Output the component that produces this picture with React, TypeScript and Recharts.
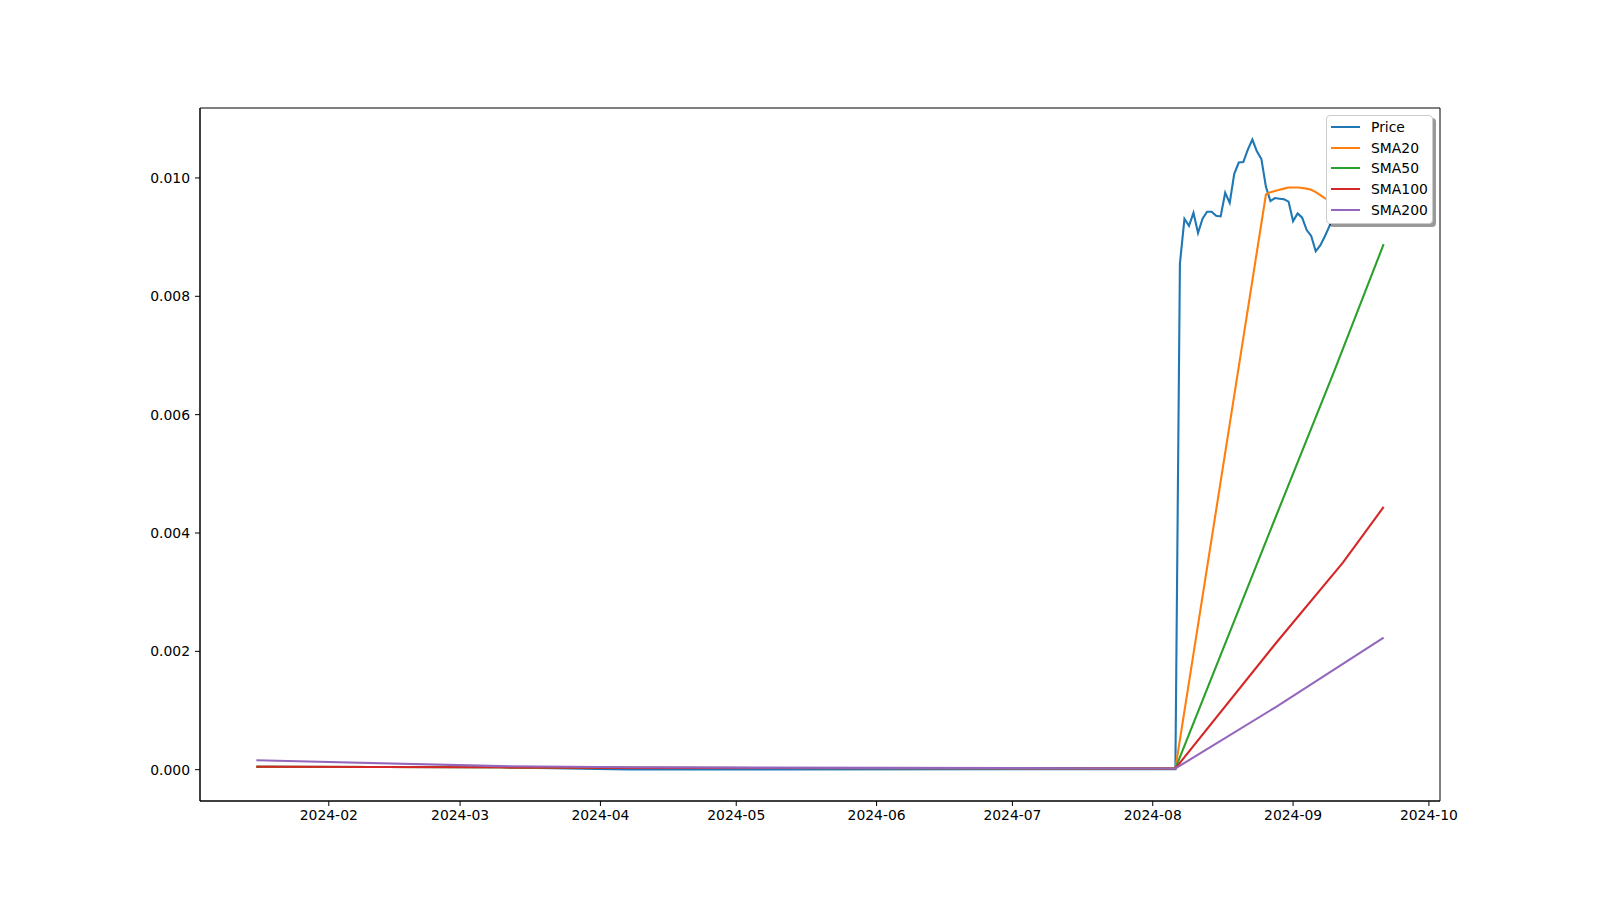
import React from 'react';
import { LineChart, Line, XAxis, YAxis, Legend, ReferenceArea } from 'recharts';

const dates = [
  '2024-01-16', '2024-03-10', '2024-04-07', '2024-08-06',
  '2024-08-07', '2024-08-08', '2024-08-09', '2024-08-10', '2024-08-11', '2024-08-12',
  '2024-08-13', '2024-08-14', '2024-08-15', '2024-08-16', '2024-08-17', '2024-08-18',
  '2024-08-19', '2024-08-20', '2024-08-21', '2024-08-22', '2024-08-23', '2024-08-24',
  '2024-08-25', '2024-08-26', '2024-08-27', '2024-08-28', '2024-08-29', '2024-08-30',
  '2024-08-31', '2024-09-01', '2024-09-02', '2024-09-03', '2024-09-04', '2024-09-05',
  '2024-09-06', '2024-09-07', '2024-09-08', '2024-09-09', '2024-09-10', '2024-09-11',
  '2024-09-12', '2024-09-13', '2024-09-14', '2024-09-15', '2024-09-16', '2024-09-17',
  '2024-09-18', '2024-09-19', '2024-09-20', '2024-09-21',
];

const price = [
  0.00005, 0.00004, 0.000003, 0.00001,
  0.00855, 0.00931, 0.00919, 0.00941, 0.00907, 0.00931,
  0.00943, 0.00943, 0.00936, 0.00935, 0.00975, 0.00958,
  0.01007, 0.01026, 0.01027, 0.01048, 0.01065, 0.01045,
  0.01032, 0.00985, 0.00961, 0.00966, 0.00965, 0.00964,
  0.0096, 0.00927, 0.0094, 0.00933, 0.00912, 0.00902,
  0.00876, 0.00886, 0.00901, 0.00918, 0.0094, 0.0096,
  0.0095, 0.0097, 0.0098, 0.0096, 0.0095, 0.0097,
  0.0096, 0.0098, 0.0097, 0.0099,
];

const N = null;

const sma20 = [
  0.00005, 0.00004, 0.00003, 0.00002,
  N, N, N, N, N, N,
  N, N, N, N, N, N,
  N, N, N, N, N, N,
  N, 0.00972, 0.00976, 0.00978, 0.0098, 0.00982,
  0.00984, 0.00984, 0.00984, 0.00983, 0.00982, 0.0098,
  0.00976, 0.00971, 0.00966, 0.00962, 0.00959, 0.00957,
  0.00955, 0.00953, 0.00952, 0.00951, 0.0095, 0.00949,
  0.00948, 0.00948, 0.00947, 0.00947,
];

const sma50 = [
  0.00005, 0.00004, 0.00003, 0.00002,
  N, N, N, N, N, N,
  N, N, N, N, N, N,
  N, N, N, N, N, N,
  N, N, 0.00405, N, N, N,
  N, N, N, N, N, N,
  N, N, N, N, 0.00672, N,
  N, N, N, N, N, N,
  N, N, N, 0.00888,
];

const sma100 = [
  0.00005, 0.00004, 0.00003, 0.00002,
  N, N, N, N, N, N,
  N, N, N, N, N, N,
  N, N, N, N, N, N,
  N, N, N, 0.00212, N, N,
  N, N, N, N, N, N,
  N, N, N, N, N, N,
  0.0035, N, N, N, N, N,
  N, N, N, 0.00444,
];

const sma200 = [
  0.00016, 0.00006, 0.00004, 0.00002,
  N, N, N, N, N, N,
  N, N, N, N, N, N,
  N, N, N, N, N, N,
  N, N, N, 0.00105, N, N,
  N, N, N, N, N, N,
  N, N, N, N, N, N,
  N, N, N, N, N, N,
  N, N, N, 0.00223,
];

const monthTicks = [
  '2024-02-01', '2024-03-01', '2024-04-01', '2024-05-01', '2024-06-01',
  '2024-07-01', '2024-08-01', '2024-09-01', '2024-10-01',
];

const yTicks = [0, 0.002, 0.004, 0.006, 0.008, 0.01];

const series = [
  { key: 'price', name: 'Price', color: '#1f77b4' },
  { key: 'sma20', name: 'SMA20', color: '#ff7f0e' },
  { key: 'sma50', name: 'SMA50', color: '#2ca02c' },
  { key: 'sma100', name: 'SMA100', color: '#d62728' },
  { key: 'sma200', name: 'SMA200', color: '#9467bd' },
];

const toDay = (s: string) => {
  const [y, m, d] = s.split('-').map(Number);
  return Date.UTC(y, m - 1, d) / 86400000;
};

const fmtDay = (t: number) => {
  const d = new Date(Math.round(t) * 86400000);
  return `${d.getUTCFullYear()}-${String(d.getUTCMonth() + 1).padStart(2, '0')}`;
};

const data = dates.map((d, i) => ({
  t: toDay(d),
  price: price[i],
  sma20: sma20[i],
  sma50: sma50[i],
  sma100: sma100[i],
  sma200: sma200[i],
}));

// matplotlib style 5% margins
const tMin = toDay(dates[0]);
const tMax = toDay(dates[dates.length - 1]);
const tPad = (tMax - tMin) * 0.05;
const allVals = [...price, ...sma20, ...sma50, ...sma100, ...sma200].filter(
  (v): v is number => v !== null
);
const vMin = Math.min(...allVals);
const vMax = Math.max(...allVals);
const vPad = (vMax - vMin) * 0.05;
const xDomain = [tMin - tPad, tMax + tPad];
const yDomain = [vMin - vPad, vMax + vPad];

const FONT = '"DejaVu Sans", sans-serif';
const tickStyle = { fill: '#000', fontSize: 13.9, fontFamily: FONT };

const LegendBox = () => (
  <div
    style={{
      background: '#fff',
      border: '1px solid #cccccc',
      borderRadius: 4,
      boxShadow: '3px 3px 0 rgba(0,0,0,0.4)',
      padding: '1px 6px 3px 4px',
      fontFamily: FONT,
      fontSize: 13.9,
      color: '#000',
      width: 107,
      boxSizing: 'border-box',
      textAlign: 'left',
    }}
  >
    {series.map((s) => (
      <div key={s.key} style={{ display: 'flex', alignItems: 'center', height: 20.6 }}>
        <span
          style={{
            display: 'inline-block',
            flexShrink: 0,
            width: 29,
            height: 2,
            background: s.color,
            marginRight: 11,
          }}
        />
        <span style={{ whiteSpace: 'nowrap' }}>{s.name}</span>
      </div>
    ))}
  </div>
);

export default function App() {
  return (
    <div style={{ position: 'absolute', left: 0, top: 0, width: 1600, height: 900, background: '#fff' }}>
      <LineChart
        width={1600}
        height={900}
        data={data}
        margin={{ top: 108, right: 160, bottom: 59, left: 120 }}
      >
        <XAxis
          dataKey="t"
          type="number"
          domain={xDomain}
          ticks={monthTicks.map(toDay)}
          tickFormatter={fmtDay}
          tick={tickStyle}
          tickSize={5}
          tickMargin={4}
          stroke="#000"
          axisLine={{ stroke: '#000', strokeWidth: 1 }}
          tickLine={{ stroke: '#000' }}
          allowDataOverflow
          height={40}
        />
        <YAxis
          type="number"
          domain={yDomain}
          ticks={yTicks}
          tickFormatter={(v: number) => v.toFixed(3)}
          tick={tickStyle}
          tickSize={5}
          tickMargin={5}
          axisLine={{ stroke: '#000', strokeWidth: 1 }}
          tickLine={{ stroke: '#000' }}
          width={80}
          allowDataOverflow
        />
        <ReferenceArea
          x1={xDomain[0]}
          x2={xDomain[1]}
          y1={yDomain[0]}
          y2={yDomain[1]}
          fill="none"
          fillOpacity={0}
          stroke="#000"
          strokeWidth={1}
          ifOverflow="visible"
        />
        <Legend
          layout="horizontal"
          verticalAlign="middle"
          align="center"
          content={() => <LegendBox />}
          wrapperStyle={{ left: 1326, top: 115, width: 'auto', height: 'auto' }}
        />
        {series.map((s) => (
          <Line
            key={s.key}
            dataKey={s.key}
            name={s.name}
            type="linear"
            stroke={s.color}
            strokeWidth={2.1}
            dot={false}
            activeDot={false}
            connectNulls
            isAnimationActive={false}
          />
        ))}
      </LineChart>
    </div>
  );
}
